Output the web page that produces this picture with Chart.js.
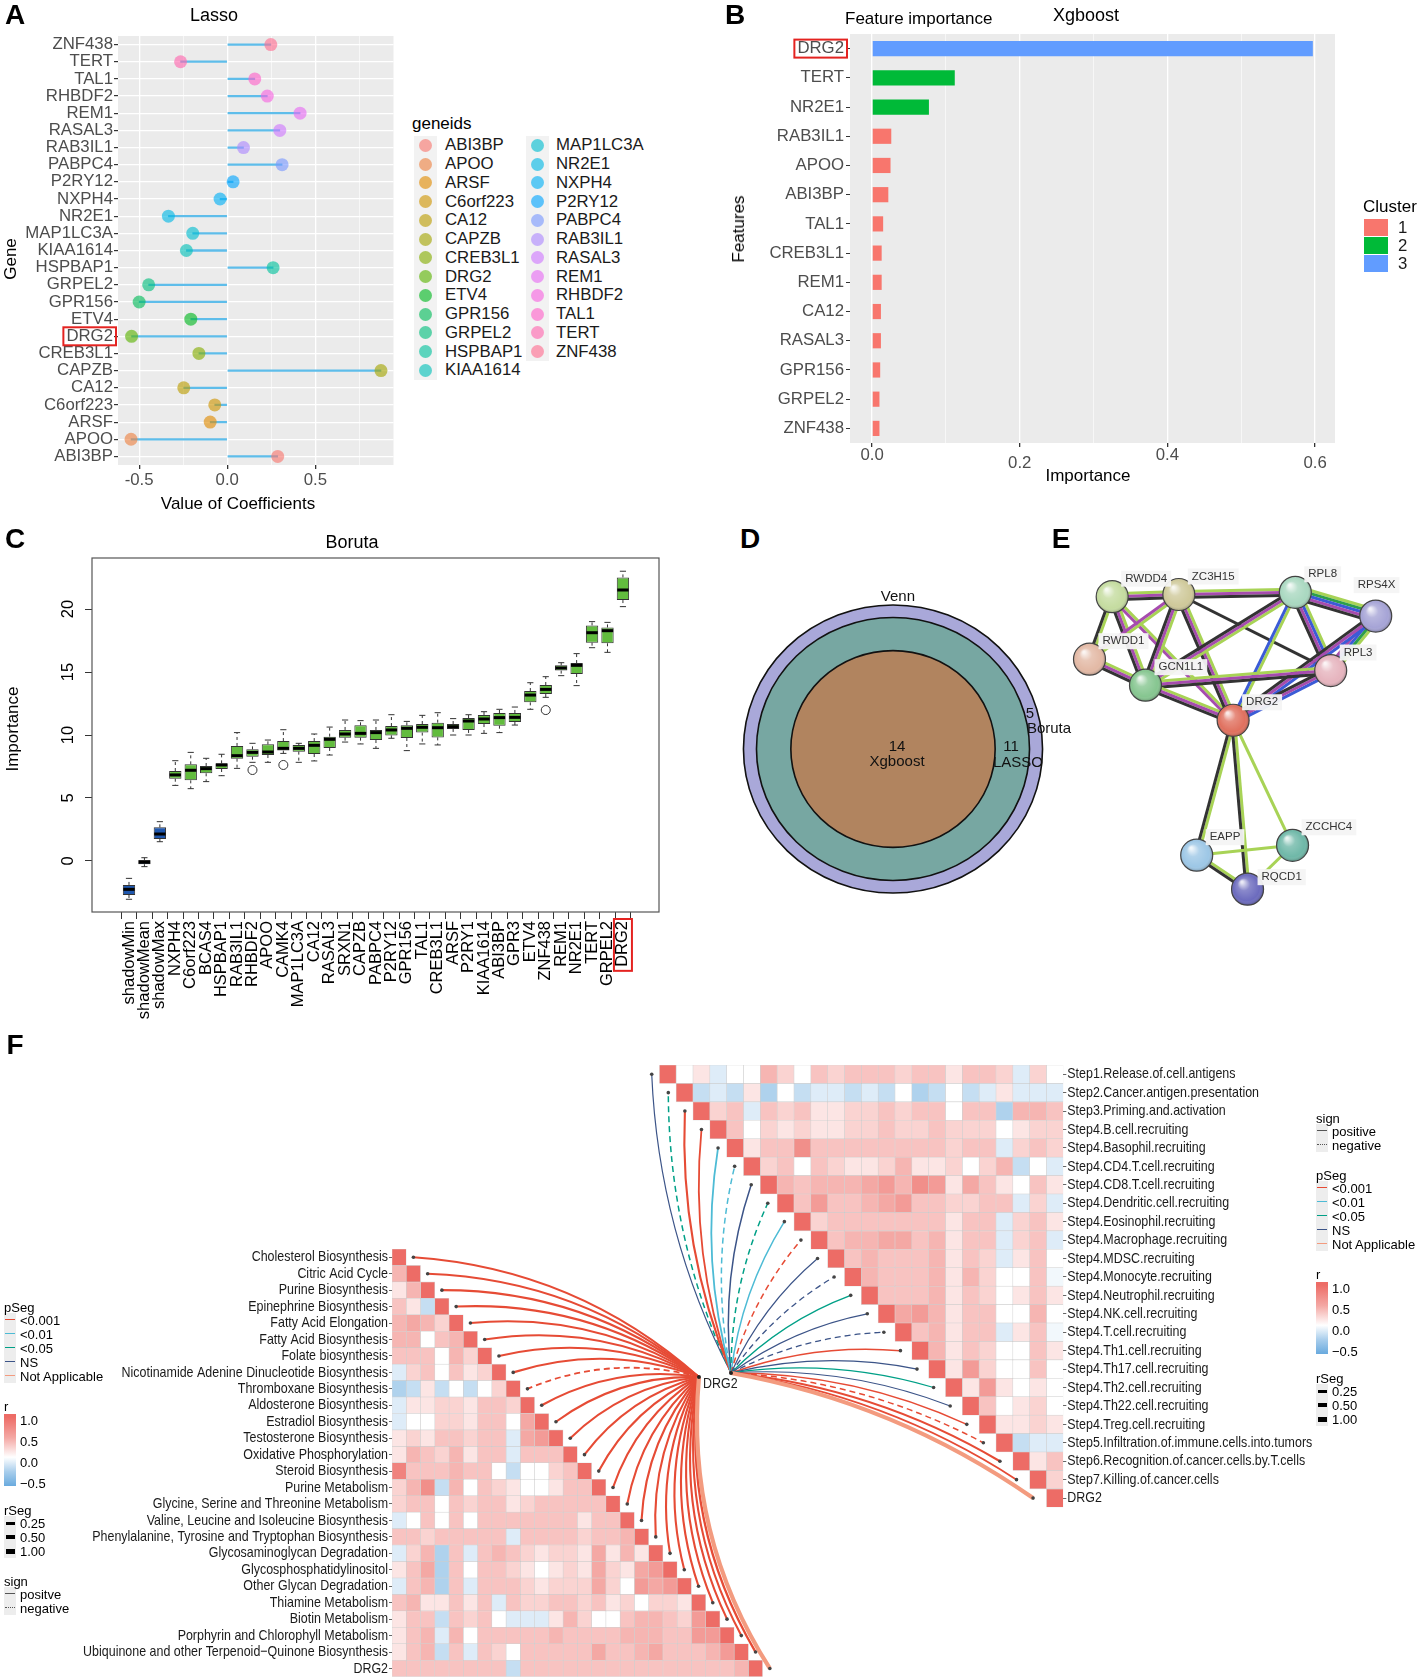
<!DOCTYPE html>
<html>
<head>
<meta charset="utf-8">
<script src="https://cdn.jsdelivr.net/npm/chart.js@4.4.1/dist/chart.umd.min.js"></script>
<style>
  html, body { margin: 0; padding: 0; background: #fff; }
  #page { position: relative; width: 1418px; height: 1679px; overflow: hidden; background: #fff; }
  #page canvas { position: absolute; }
</style>
</head>
<body>
<div id="page">
  <canvas id="cA" width="400" height="520" style="left:0px;top:0px"></canvas>
  <canvas id="cB" width="718" height="520" style="left:700px;top:0px"></canvas>
  <canvas id="cC" width="680" height="500" style="left:0px;top:520px"></canvas>
  <canvas id="cD" width="390" height="370" style="left:700px;top:560px"></canvas>
  <canvas id="cE" width="378" height="400" style="left:1040px;top:540px"></canvas>
  <canvas id="cF1" width="800" height="439" style="left:0px;top:1240px"></canvas>
  <canvas id="cF2" width="818" height="460" style="left:600px;top:1055px"></canvas>
</div>
<script>
// ---- data ----
// A: lasso coefficients (alphabetical, as in the legend)
var lassoGenes = ['ABI3BP','APOO','ARSF','C6orf223','CA12','CAPZB','CREB3L1','DRG2','ETV4','GPR156','GRPEL2','HSPBAP1','KIAA1614',
                  'MAP1LC3A','NR2E1','NXPH4','P2RY12','PABPC4','RAB3IL1','RASAL3','REM1','RHBDF2','TAL1','TERT','ZNF438'];
var lassoCoef = [0.286,-0.546,-0.097,-0.071,-0.247,0.872,-0.161,-0.543,-0.207,-0.500,-0.446,0.260,-0.232,
                 -0.196,-0.334,-0.041,0.033,0.311,0.092,0.298,0.413,0.227,0.156,-0.265,0.247];

// B: xgboost importance
var xgbFeatures = ['DRG2','TERT','NR2E1','RAB3IL1','APOO','ABI3BP','TAL1','CREB3L1','REM1','CA12','RASAL3','GPR156','GRPEL2','ZNF438'];
var xgbImp = [0.597,0.112,0.077,0.026,0.025,0.022,0.015,0.013,0.013,0.012,0.012,0.011,0.010,0.010];
var xgbCluster = [3,2,2,1,1,1,1,1,1,1,1,1,1,1];

// C: boruta importance boxes
var borutaNames = ['shadowMin','shadowMean','shadowMax','NXPH4','C6orf223','BCAS4','HSPBAP1','RAB3IL1','RHBDF2','APOO','CAMK4',
                   'MAP1LC3A','CA12','RASAL3','SRXN1','CAPZB','PABPC4','P2RY12','GPR156','TAL1','CREB3L1','ARSF','P2RY1',
                   'KIAA1614','ABI3BP','GPR3','ETV4','ZNF438','REM1','NR2E1','TERT','GRPEL2','DRG2'];
var borutaMin = [-3.04,-0.45,1.53,6.00,5.74,6.30,6.77,7.35,7.83,7.83,8.54,7.83,7.94,8.41,9.44,9.29,8.94,9.74,8.76,9.29,9.21,
                 10.00,10.00,10.13,10.19,10.79,12.04,12.99,14.71,13.92,16.93,16.56,20.19];
var borutaQ1  = [-2.70,-0.26,1.75,6.53,6.40,6.96,7.30,8.12,8.28,8.41,8.76,8.68,8.49,8.97,9.79,9.79,9.60,9.97,9.76,10.19,9.81,
                 10.48,10.40,10.87,10.74,11.03,12.59,13.25,15.11,14.84,17.33,17.28,20.71];
var borutaMed = [-2.25,-0.10,2.14,6.83,7.20,7.33,7.62,8.36,8.62,8.65,8.94,8.94,9.18,9.66,10.08,10.13,10.19,10.40,10.53,10.61,10.58,
                 10.66,11.11,11.27,11.38,11.40,13.17,13.62,15.32,15.53,18.12,18.28,21.51];
var borutaQ3  = [-1.90,0.08,2.67,7.14,7.67,7.54,7.75,9.13,8.86,9.26,9.52,9.20,9.52,9.87,10.40,10.77,10.40,10.71,10.77,10.87,10.98,
                 10.87,11.35,11.59,11.75,11.75,13.49,13.97,15.53,15.71,18.70,18.54,22.51];
var borutaMax = [-1.38,0.26,3.12,7.96,8.62,8.15,8.47,10.19,9.34,9.60,10.42,9.34,10.08,10.63,11.19,11.14,11.19,11.61,11.08,11.56,11.77,
                 11.30,11.61,11.85,12.04,12.22,14.15,14.63,15.74,16.46,19.00,18.94,23.00];
var borutaOutGene = ['RHBDF2','CAMK4','ZNF438'];
var borutaOutVal = [7.22,7.62,11.98];

// D: venn region counts
var vennNames = ['Xgboost','LASSO','Boruta'];
var vennCounts = [14,11,5];

// E: STRING network
var netNodes = ['RWDD4','ZC3H15','RPL8','RPS4X','RWDD1','GCN1L1','RPL3','DRG2','EAPP','ZCCHC4','RQCD1'];
var netX = [16.0,35.4,69.3,92.7,9.4,25.7,79.6,51.2,40.6,68.5,55.4];
var netY = [10.8,10.2,9.6,16.1,27.9,35.0,31.0,44.6,81.5,78.8,90.8];
var netEdges = [
  ['RWDD4','ZC3H15','tm ex co'], ['RWDD4','RWDD1','tm co'], ['RWDD4','GCN1L1','tm ex co'], ['RWDD4','DRG2','tm ex'],
  ['ZC3H15','RPL8','tm ex co'], ['ZC3H15','RWDD1','tm ex'], ['ZC3H15','GCN1L1','tm ex co'], ['ZC3H15','DRG2','tm ex co'],
  ['ZC3H15','RPL3','co'], ['RPL8','RPS4X','tm nb db ex co'], ['RPL8','RPL3','tm db ex co'], ['RPL8','GCN1L1','tm ex co'],
  ['RPL8','DRG2','tm db'], ['RPS4X','RPL3','tm nb db ex'], ['RPS4X','DRG2','db ex co'], ['RWDD1','GCN1L1','tm ex co'],
  ['GCN1L1','RPL3','tm ex co'], ['GCN1L1','DRG2','tm ex co'], ['RPL3','DRG2','db ex co'], ['DRG2','EAPP','tm co'],
  ['DRG2','ZCCHC4','tm'], ['DRG2','RQCD1','tm co'], ['EAPP','ZCCHC4','tm'], ['EAPP','RQCD1','tm co'], ['ZCCHC4','RQCD1','tm']
];

// F: correlation heatmaps (one character per cell: 0-9 = 0.0-0.9, a-e = -0.1..-0.5, '-' = ~0 negative, X = 1)
var metabRows = ['Cholesterol Biosynthesis','Citric Acid Cycle','Purine Biosynthesis','Epinephrine Biosynthesis','Fatty Acid Elongation',
  'Fatty Acid Biosynthesis','Folate biosynthesis','Nicotinamide Adenine Dinucleotide Biosynthesis','Thromboxane Biosynthesis',
  'Aldosterone Biosynthesis','Estradiol Biosynthesis','Testosterone Biosynthesis','Oxidative Phosphorylation','Steroid Biosynthesis',
  'Purine Metabolism','Glycine, Serine and Threonine Metabolism','Valine, Leucine and Isoleucine Biosynthesis',
  'Phenylalanine, Tyrosine and Tryptophan Biosynthesis','Glycosaminoglycan Degradation','Glycosphosphatidylinositol',
  'Other Glycan Degradation','Thiamine Metabolism','Biotin Metabolism','Porphyrin and Chlorophyll Metabolism',
  'Ubiquinone and other Terpenoid\u2212Quinone Biosynthesis','DRG2'];
var metabR = ['X','4X','14X','31bX','4542X','44034X','333042X','a230312X','cb1b0b02X','a11221332X','a002213305X',
  '12133233a56X','14324133a333X','83334330b0023X','247b4032100133X','233032331233333X','a030303333333133X',
  '33233333a33332334X','a24c3a343212215141X','135c303321012152156X','a34c3a33321222520656X','3411313a3223323120221X',
  '133b3230aaa14200344326X','134a4033333433334443366X','134b3a320333335334533346X','33333333b3333333333333334X'];
var metabP = ['<0.001','<0.001','<0.001','<0.001','<0.001','<0.001','<0.001','<0.001','<0.001','<0.001','<0.001','<0.001','<0.001',
  '<0.001','<0.001','<0.001','<0.001','<0.001','<0.001','<0.001','<0.001','<0.001','<0.001','<0.001','<0.001','NA'];

var immuneRows = ['Step1.Release.of.cell.antigens','Step2.Cancer.antigen.presentation','Step3.Priming.and.activation',
  'Step4.B.cell.recruiting','Step4.Basophil.recruiting','Step4.CD4.T.cell.recruiting','Step4.CD8.T.cell.recruiting',
  'Step4.Dendritic.cell.recruiting','Step4.Eosinophil.recruiting','Step4.Macrophage.recruiting','Step4.MDSC.recruiting',
  'Step4.Monocyte.recruiting','Step4.Neutrophil.recruiting','Step4.NK.cell.recruiting','Step4.T.cell.recruiting',
  'Step4.Th1.cell.recruiting','Step4.Th17.cell.recruiting','Step4.Th2.cell.recruiting','Step4.Th22.cell.recruiting',
  'Step4.Treg.cell.recruiting','Step5.Infiltration.of.immune.cells.into.tumors','Step6.Recognition.of.cancer.cells.by.T.cells',
  'Step7.Killing.of.cancer.cells','DRG2'];
var immuneR = ['X01a00420323332331332a20','Xbab1c0baabab0cb0ba1aaa','X23a32311223233033c443','X30212112232232220122',
  'X133733333333233a232','X230321124112024b0a','X43444564761531031','X3633456332233a2a','X23333333133a231',
  'X3445534133a23a','X343334132a130','X43334142003-','X33341320131','X5641330040','X34133a13-','X41320031',
  'X1620030','X161010','X30120','X1121','Xbaa','X13','X2','X'];
var immuneP = ['NS','<0.05','<0.001','<0.001','<0.01','<0.01','NS','<0.05','<0.01','<0.001','NS','NS','<0.05','NS','NS',
  '<0.001','NS','<0.05','NS','<0.001','<0.001','<0.001','<0.001','NA'];

// ---- style ----
var FONT = '"Liberation Sans", Arial, Helvetica, sans-serif';
Chart.defaults.font.family = FONT;
Chart.defaults.animation = false;
Chart.defaults.events = [];
Chart.defaults.plugins.legend.display = false;
Chart.defaults.plugins.tooltip.enabled = false;

var page = document.getElementById('page');
var TICK_GREY = '#4d4d4d';
var clusterColors = ['#F8766D', '#00BA38', '#619CFF'];
var pColors = { '<0.001': '#E64B35', '<0.01': '#4DBBD5', '<0.05': '#00A087', 'NS': '#3C5488', 'NA': '#F39B7F' };
var netLineColors = { tm: '#A8D356', co: '#333333', ex: '#A64CAE', db: '#3B5BD6', nb: '#2E9E4B' };
var nodeColors = ['#C5DCA0','#CFC99A','#A9D8C0','#A6A4D6','#E3B9A5','#86C690','#E6B4BE','#E0705E','#9DC7E6','#6FB8A8','#6C6BBE'];
var vennFill = ['#B1845F', '#77A7A2', '#A9A8D9'];

// ggplot default hue palette
function hcl(h, c, l) {
  var hr = h * Math.PI / 180, U = c * Math.cos(hr), V = c * Math.sin(hr);
  var Y = l > 8 ? Math.pow((l + 16) / 116, 3) : l / 903.3;
  var Xn = 0.95047, Yn = 1, Zn = 1.08883;
  var un = 4 * Xn / (Xn + 15 * Yn + 3 * Zn), vn = 9 * Yn / (Xn + 15 * Yn + 3 * Zn);
  var up = U / (13 * l) + un, vp = V / (13 * l) + vn;
  var X = Y * 9 * up / (4 * vp), Z = Y * (12 - 3 * up - 20 * vp) / (4 * vp);
  var r = 3.2406 * X - 1.5372 * Y - 0.4986 * Z, g = -0.9689 * X + 1.8758 * Y + 0.0415 * Z, b = 0.0557 * X - 0.2040 * Y + 1.0570 * Z;
  function gam(v) { v = Math.max(0, Math.min(1, v)); return Math.round(255 * (v <= 0.0031308 ? 12.92 * v : 1.055 * Math.pow(v, 1 / 2.4) - 0.055)); }
  return [gam(r), gam(g), gam(b)];
}
var geneFill = lassoGenes.map(function(g, i) {
  var c = hcl(15 + 360 * i / lassoGenes.length, 100, 65);
  return 'rgba(' + c[0] + ',' + c[1] + ',' + c[2] + ',0.62)';
});

function decodeR(ch) {
  if (ch === 'X') return 1;
  if (ch === '-') return -0.03;
  var k = 'abcde'.indexOf(ch);
  if (k >= 0) return -(k + 1) / 10;
  return +ch / 10;
}
function heatColor(v) {
  if (v >= 0) {
    var t = Math.pow(Math.min(v, 1), 0.75);
    return 'rgb(' + Math.round(255 - 18 * t) + ',' + Math.round(255 - 147 * t) + ',' + Math.round(255 - 153 * t) + ')';
  }
  var s = Math.pow(Math.min(-v / 0.66, 1), 0.8);
  return 'rgb(' + Math.round(255 - 150 * s) + ',' + Math.round(255 - 85 * s) + ',' + Math.round(255 - 33 * s) + ')';
}

// ---- html text helpers ----
function txt(s, x, y, o) {
  o = o || {};
  var d = document.createElement('div');
  d.textContent = s;
  d.style.cssText = 'position:absolute;left:' + x + 'px;top:' + y + 'px;white-space:nowrap;line-height:1;z-index:5;' +
    'font:' + (o.weight || 'normal') + ' ' + (o.size || 17) + 'px ' + FONT + ';color:' + (o.color || '#000') + ';';
  var ax = o.align === 'left' ? '0' : (o.align === 'right' ? '-100%' : '-50%');
  d.style.transform = 'translate(' + ax + ',-50%)' + (o.rot ? ' rotate(' + o.rot + 'deg)' : '');
  page.appendChild(d);
  return d;
}
function box(x, y, w, h, css) {
  var d = document.createElement('div');
  d.style.cssText = 'position:absolute;left:' + x + 'px;top:' + y + 'px;width:' + w + 'px;height:' + h + 'px;z-index:4;' + (css || '');
  page.appendChild(d);
  return d;
}

// ---- shared plugins ----
function panelBg(color) {
  return { id: 'panelBg', beforeDraw: function(chart) {
    var a = chart.chartArea, c = chart.ctx;
    c.save(); c.fillStyle = color; c.fillRect(a.left, a.top, a.right - a.left, a.bottom - a.top); c.restore();
  } };
}
function labelBox(axisId, value, text, size, rotated) {
  return { id: 'labelBox', afterDraw: function(chart) {
    var s = chart.scales[axisId], c = chart.ctx;
    var tl = s.options.grid.tickLength, pad = s.options.ticks.padding;
    c.save();
    c.font = size + 'px ' + FONT;
    var w = c.measureText(text).width;
    c.strokeStyle = '#E42320'; c.lineWidth = 2;
    if (!rotated) {
      var y = s.getPixelForValue(value), right = s.right - tl - pad;
      c.strokeRect(right - w - 3, y - 9, w + 6, 18);
    } else {
      var x = s.getPixelForValue(value), top = s.top + tl + pad;
      c.strokeRect(x - 9, top - 2, 18, w + 6);
    }
    c.restore();
  } };
}
function isMajor(v, step) { return Math.abs(v / step - Math.round(v / step)) < 1e-6; }

// ---- panel letters and titles ----
txt('A', 15, 15, { size: 28, weight: 'bold' });
txt('B', 735, 15, { size: 28, weight: 'bold' });
txt('C', 15, 539, { size: 28, weight: 'bold' });
txt('D', 750, 539, { size: 28, weight: 'bold' });
txt('E', 1061, 539, { size: 28, weight: 'bold' });
txt('F', 15, 1045, { size: 28, weight: 'bold' });

txt('Lasso', 214, 15, { size: 18 });
txt('Gene', 11, 259, { rot: -90 });
txt('Value of Coefficients', 238, 504);
txt('Feature importance', 845, 19, { align: 'left' });
txt('Xgboost', 1086, 15, { size: 18 });
txt('Features', 739, 229, { rot: -90 });
txt('Importance', 1088, 476);
txt('Boruta', 352, 542, { size: 18 });
txt('Importance', 13, 729, { rot: -90 });

// ---- A: Lasso lollipop ----
new Chart(document.getElementById('cA'), {
  type: 'bar',
  data: {
    labels: lassoGenes,
    datasets: [
      { type: 'line', indexAxis: 'y', data: lassoCoef, showLine: false, pointRadius: 6.5, pointHoverRadius: 6.5,
        pointBackgroundColor: geneFill, pointBorderWidth: 0, order: 0, clip: false },
      { type: 'bar', data: lassoCoef, backgroundColor: '#5EBDEA', barThickness: 1.6, order: 1 }
    ]
  },
  options: {
    indexAxis: 'y', responsive: false,
    layout: { padding: { top: 36, right: 3, left: 0, bottom: 0 } },
    scales: {
      y: {
        reverse: true, offset: true,
        grid: { color: '#ffffff', lineWidth: 1.2, offset: false, tickColor: '#333', tickLength: 4 },
        border: { display: false },
        ticks: { color: TICK_GREY, font: { size: 16.8 }, padding: 1, autoSkip: false },
        afterFit: function(s) { s.width = 118; }
      },
      x: {
        min: -0.62, max: 0.943,
        afterBuildTicks: function(s) { s.ticks = [-0.5, -0.25, 0, 0.25, 0.5, 0.75].map(function(v) { return { value: v }; }); },
        grid: {
          color: '#ffffff',
          lineWidth: function(c) { return isMajor(c.tick.value, 0.5) ? 1.3 : 0.6; },
          tickColor: function(c) { return isMajor(c.tick.value, 0.5) ? '#333' : 'rgba(0,0,0,0)'; },
          tickLength: 4
        },
        border: { display: false },
        ticks: { color: TICK_GREY, font: { size: 16.8 }, padding: 1, maxRotation: 0, autoSkip: false,
          callback: function(v) { return isMajor(v, 0.5) ? v.toFixed(1) : ''; } },
        afterFit: function(s) { s.height = 55; }
      }
    }
  },
  plugins: [panelBg('#EBEBEB'), labelBox('y', lassoGenes.indexOf('DRG2'), 'DRG2', 16.8, false)]
});

// A legend
txt('geneids', 412, 124, { align: 'left' });
(function() {
  var perCol = 13, rowH = 18.75, top = 136;
  box(414, top, 23, perCol * rowH, 'background:#F2F2F2');
  box(526, top, 23, (lassoGenes.length - perCol) * rowH, 'background:#F2F2F2');
  lassoGenes.forEach(function(g, i) {
    var col = i < perCol ? 0 : 1, row = i % perCol;
    var cx = col === 0 ? 425.5 : 537.5, cy = top + rowH * (row + 0.5);
    box(cx - 6.5, cy - 6.5, 13, 13, 'border-radius:50%;background:' + geneFill[i] + ';z-index:6');
    txt(g, col === 0 ? 445 : 556, cy, { align: 'left', size: 16.8, color: '#1a1a1a' });
  });
})();

// ---- B: Xgboost bars ----
new Chart(document.getElementById('cB'), {
  type: 'bar',
  data: {
    labels: xgbFeatures,
    datasets: [{ data: xgbImp, backgroundColor: xgbCluster.map(function(k) { return clusterColors[k - 1]; }),
      barPercentage: 0.52, categoryPercentage: 1 }]
  },
  options: {
    indexAxis: 'y', responsive: false,
    layout: { padding: { top: 34, right: 83, left: 0, bottom: 0 } },
    scales: {
      y: {
        grid: { drawOnChartArea: false, offset: false, tickColor: '#333', tickLength: 4 },
        border: { display: false },
        ticks: { color: TICK_GREY, font: { size: 16.8 }, padding: 2, autoSkip: false },
        afterFit: function(s) { s.width = 150; }
      },
      x: {
        min: -0.0299, max: 0.627,
        afterBuildTicks: function(s) { s.ticks = [0, 0.1, 0.2, 0.3, 0.4, 0.5, 0.6].map(function(v) { return { value: v }; }); },
        grid: {
          color: '#ffffff',
          lineWidth: function(c) { return isMajor(c.tick.value, 0.2) ? 1.3 : 0.6; },
          tickColor: function(c) { return isMajor(c.tick.value, 0.2) ? '#333' : 'rgba(0,0,0,0)'; },
          tickLength: 4
        },
        border: { display: false },
        ticks: {
          color: TICK_GREY, font: { size: 16.8, lineHeight: 0.5 }, padding: 4, maxRotation: 0, autoSkip: false,
          callback: function(v) {
            if (!isMajor(v, 0.2)) return '';
            var lab = v.toFixed(1);
            return isMajor(v, 0.4) ? lab : ['', lab];
          }
        },
        afterFit: function(s) { s.height = 77; }
      }
    }
  },
  plugins: [panelBg('#EBEBEB'), labelBox('y', 0, 'DRG2', 16.8, false)]
});

// B legend
txt('Cluster', 1363, 207, { align: 'left' });
[1, 2, 3].forEach(function(k, i) {
  box(1364, 219 + 18 * i, 24, 17, 'background:' + clusterColors[i]);
  txt(String(k), 1398, 228 + 18 * i, { align: 'left', size: 16.8, color: '#1a1a1a' });
});

// ---- C: Boruta boxplot ----
new Chart(document.getElementById('cC'), {
  type: 'bar',
  data: {
    datasets: [{
      data: borutaNames.map(function(n, i) { return { x: i + 1, y: [borutaQ1[i], borutaQ3[i]] }; }),
      backgroundColor: borutaNames.map(function(n) { return n.indexOf('shadow') === 0 ? '#1F57AE' : '#62BC3E'; }),
      borderColor: '#333', borderWidth: 1, borderSkipped: false, barPercentage: 0.8, categoryPercentage: 1
    }]
  },
  options: {
    responsive: false,
    layout: { padding: { top: 38, right: 21, left: 0, bottom: 0 } },
    scales: {
      x: {
        type: 'linear', min: -0.84, max: 34.78,
        afterBuildTicks: function(s) { s.ticks = borutaNames.map(function(n, i) { return { value: i + 1 }; }); },
        grid: { drawOnChartArea: false, tickColor: '#333', tickLength: 7 },
        border: { display: false },
        ticks: { autoSkip: false, minRotation: 90, maxRotation: 90, color: '#000', font: { size: 16.5 }, padding: 2,
          callback: function(v) { return borutaNames[v - 1]; } },
        afterFit: function(s) { s.height = 108; }
      },
      y: {
        min: -4.05, max: 24.05,
        afterBuildTicks: function(s) { s.ticks = [0, 5, 10, 15, 20].map(function(v) { return { value: v }; }); },
        grid: { drawOnChartArea: false, tickColor: '#333', tickLength: 7 },
        border: { display: false },
        ticks: { display: false },
        afterFit: function(s) { s.width = 92; }
      }
    }
  },
  plugins: [
    { id: 'boxWhisker', afterDatasetsDraw: function(chart) {
      var c = chart.ctx, sy = chart.scales.y, sx = chart.scales.x;
      var meta = chart.getDatasetMeta(0);
      c.save();
      meta.data.forEach(function(bar, i) {
        var p = bar.getProps(['x', 'width'], true), x = p.x, hw = p.width / 2;
        c.strokeStyle = '#333'; c.lineWidth = 1;
        c.setLineDash([3, 3]);
        c.beginPath();
        c.moveTo(x, sy.getPixelForValue(borutaQ3[i])); c.lineTo(x, sy.getPixelForValue(borutaMax[i]));
        c.moveTo(x, sy.getPixelForValue(borutaQ1[i])); c.lineTo(x, sy.getPixelForValue(borutaMin[i]));
        c.stroke();
        c.setLineDash([]);
        c.beginPath();
        c.moveTo(x - hw / 2, sy.getPixelForValue(borutaMax[i])); c.lineTo(x + hw / 2, sy.getPixelForValue(borutaMax[i]));
        c.moveTo(x - hw / 2, sy.getPixelForValue(borutaMin[i])); c.lineTo(x + hw / 2, sy.getPixelForValue(borutaMin[i]));
        c.stroke();
        c.strokeStyle = '#000'; c.lineWidth = 3;
        c.beginPath();
        c.moveTo(x - hw + 0.5, sy.getPixelForValue(borutaMed[i])); c.lineTo(x + hw - 0.5, sy.getPixelForValue(borutaMed[i]));
        c.stroke();
      });
      c.strokeStyle = '#333'; c.lineWidth = 1;
      borutaOutGene.forEach(function(g, k) {
        var x = sx.getPixelForValue(borutaNames.indexOf(g) + 1), y = sy.getPixelForValue(borutaOutVal[k]);
        c.beginPath(); c.arc(x, y, 4.5, 0, Math.PI * 2); c.stroke();
      });
      c.restore();
    } },
    { id: 'frameAndY', afterDraw: function(chart) {
      var c = chart.ctx, a = chart.chartArea, sy = chart.scales.y;
      c.save();
      c.strokeStyle = '#555'; c.lineWidth = 1.2;
      c.strokeRect(a.left, a.top, a.right - a.left, a.bottom - a.top);
      c.fillStyle = '#000'; c.font = '16.5px ' + FONT; c.textAlign = 'center'; c.textBaseline = 'middle';
      sy.ticks.forEach(function(t) {
        c.save(); c.translate(68, sy.getPixelForValue(t.value)); c.rotate(-Math.PI / 2);
        c.fillText(String(t.value), 0, 0); c.restore();
      });
      c.restore();
    } },
    labelBox('x', borutaNames.indexOf('DRG2') + 1, 'DRG2', 16.5, true)
  ]
});

// ---- D: Venn ----
var vennLabels = [
  { t: 'Venn', x: 0.033, y: 1.06 },
  { t: String(vennCounts[0]), x: 0.027, y: 0.014 }, { t: vennNames[0], x: 0.027, y: -0.09 },
  { t: String(vennCounts[1]), x: 0.79, y: 0.014 }, { t: vennNames[1], x: 0.836, y: -0.097 },
  { t: String(vennCounts[2]), x: 0.916, y: 0.243 }, { t: vennNames[2], x: 1.043, y: 0.139 }
];
new Chart(document.getElementById('cD'), {
  type: 'scatter',
  data: { datasets: [{ data: [] }] },
  options: {
    responsive: false,
    layout: { padding: { left: 28.5, right: 32.5, top: 30.6, bottom: 22.6 } },
    scales: { x: { min: -1.1, max: 1.1, display: false }, y: { min: -1.1, max: 1.1, display: false } }
  },
  plugins: [{ id: 'venn', afterDraw: function(chart) {
    var c = chart.ctx, sx = chart.scales.x, sy = chart.scales.y;
    var cx = sx.getPixelForValue(0), cy = sy.getPixelForValue(0);
    var ux = sx.getPixelForValue(1) - cx, uy = cy - sy.getPixelForValue(1);
    var total = vennCounts.reduce(function(a, b) { return a + b; }, 0);
    var cum = [], run = 0;
    vennCounts.forEach(function(n) { run += n; cum.push(run); });
    c.save();
    for (var k = vennCounts.length - 1; k >= 0; k--) {
      var r = Math.sqrt(cum[k] / total);
      c.beginPath(); c.ellipse(cx, cy, r * ux, r * uy, 0, 0, Math.PI * 2);
      c.fillStyle = vennFill[k]; c.fill();
      c.strokeStyle = '#111'; c.lineWidth = 1.6; c.stroke();
    }
    c.fillStyle = '#111'; c.font = '15px ' + FONT; c.textAlign = 'center'; c.textBaseline = 'middle';
    vennLabels.forEach(function(l) { c.fillText(l.t, sx.getPixelForValue(l.x), sy.getPixelForValue(l.y)); });
    c.restore();
  } }]
});

// ---- E: network ----
var netLabelOffset = { RPS4X: [-18, -31], RQCD1: [14, -12] };
new Chart(document.getElementById('cE'), {
  type: 'scatter',
  data: { datasets: [{
    data: netNodes.map(function(n, i) { return { x: netX[i], y: netY[i] }; }),
    pointRadius: 16, pointHoverRadius: 16, pointBackgroundColor: nodeColors, pointBorderColor: '#444', pointBorderWidth: 1.2, clip: false
  }] },
  options: {
    responsive: false,
    layout: { padding: 0 },
    scales: { x: { min: 0, max: 100, display: false }, y: { min: 0, max: 100, reverse: true, display: false } }
  },
  plugins: [{
    id: 'network',
    beforeDatasetsDraw: function(chart) {
      var c = chart.ctx, sx = chart.scales.x, sy = chart.scales.y;
      c.save(); c.lineCap = 'butt';
      netEdges.forEach(function(e) {
        var a = netNodes.indexOf(e[0]), b = netNodes.indexOf(e[1]);
        var x0 = sx.getPixelForValue(netX[a]), y0 = sy.getPixelForValue(netY[a]);
        var x1 = sx.getPixelForValue(netX[b]), y1 = sy.getPixelForValue(netY[b]);
        var len = Math.hypot(x1 - x0, y1 - y0), nx = -(y1 - y0) / len, ny = (x1 - x0) / len;
        var kinds = e[2].split(' ');
        kinds.forEach(function(k, j) {
          var off = (j - (kinds.length - 1) / 2) * 3;
          c.strokeStyle = netLineColors[k]; c.lineWidth = 3;
          c.beginPath(); c.moveTo(x0 + nx * off, y0 + ny * off); c.lineTo(x1 + nx * off, y1 + ny * off); c.stroke();
        });
      });
      c.restore();
    },
    afterDatasetsDraw: function(chart) {
      var c = chart.ctx, sx = chart.scales.x, sy = chart.scales.y;
      c.save();
      netNodes.forEach(function(n, i) {
        var x = sx.getPixelForValue(netX[i]), y = sy.getPixelForValue(netY[i]), r = 16;
        var g = c.createRadialGradient(x - r * 0.35, y - r * 0.45, 1, x, y, r);
        g.addColorStop(0, 'rgba(255,255,255,0.85)');
        g.addColorStop(0.35, 'rgba(255,255,255,0.2)');
        g.addColorStop(0.8, 'rgba(255,255,255,0)');
        g.addColorStop(1, 'rgba(0,0,0,0.25)');
        c.fillStyle = g; c.beginPath(); c.arc(x, y, r - 0.5, 0, Math.PI * 2); c.fill();
      });
      c.font = '11.5px ' + FONT; c.textBaseline = 'middle'; c.textAlign = 'left';
      netNodes.forEach(function(n, i) {
        var x = sx.getPixelForValue(netX[i]), y = sy.getPixelForValue(netY[i]);
        var off = netLabelOffset[n] || [13, -18];
        var w = c.measureText(n).width;
        c.fillStyle = 'rgba(244,244,244,0.95)';
        c.fillRect(x + off[0] - 4, y + off[1] - 8, w + 8, 16);
        c.fillStyle = '#333';
        c.fillText(n, x + off[0], y + off[1]);
      });
      c.restore();
    }
  }]
});

// ---- F: correlation heatmaps with couple curves ----
function heatDatasets(rows, codes, lower) {
  var n = rows.length, sets = [];
  for (var col = 0; col < n; col++) {
    var data = [], colors = [];
    for (var r = 0; r < n; r++) {
      var has = lower ? r >= col : col >= r;
      if (has) {
        var ch = lower ? codes[r][col] : codes[r][col - r];
        data.push([col, col + 1]); colors.push(heatColor(decodeR(ch)));
      } else { data.push(null); colors.push('rgba(0,0,0,0)'); }
    }
    sets.push({ data: data, backgroundColor: colors, borderColor: 'rgba(185,185,185,0.55)', borderWidth: 0.6,
      grouped: false, barPercentage: 1, categoryPercentage: 1, borderSkipped: false });
  }
  return sets;
}
function narrowLabels(side) {
  return { id: 'narrowLabels', afterDraw: function(chart) {
    var s = chart.scales.y, c = chart.ctx;
    c.save();
    c.font = '15px ' + FONT; c.fillStyle = '#1a1a1a'; c.textBaseline = 'middle';
    s.getLabels().forEach(function(lab, i) {
      var y = s.getPixelForValue(i);
      c.save();
      if (side === 'left') { c.translate(s.right - 4, y); c.textAlign = 'right'; }
      else { c.translate(s.left + 4, y); c.textAlign = 'left'; }
      c.scale(0.83, 1);
      c.fillText(lab, 0, 0);
      c.restore();
    });
    c.restore();
  } };
}
function coupleCurves(opt) {
  return { id: 'couple', afterDatasetsDraw: function(chart) {
    var c = chart.ctx, sx = chart.scales.x, sy = chart.scales.y;
    var hx = sx.getPixelForValue(opt.hub[0]), hy = sy.getPixelForValue(opt.hub[1]);
    var ends = [];
    c.save(); c.lineCap = 'butt';
    opt.codes.forEach(function(code, i) {
      var rv = decodeR(opt.pick(code));
      var e = opt.end(i), px = sx.getPixelForValue(e[0]), py = sy.getPixelForValue(e[1]);
      var dx = px - hx, dy = py - hy;
      var qx = (hx + px) / 2 - dy * opt.bend, qy = (hy + py) / 2 + dx * opt.bend;
      c.strokeStyle = pColors[opt.p[i]];
      c.lineWidth = 1.2 + 3 * Math.abs(rv);
      c.setLineDash(rv < 0 ? [6, 4] : []);
      c.beginPath(); c.moveTo(hx, hy); c.quadraticCurveTo(qx, qy, px, py); c.stroke();
      ends.push([px, py]);
    });
    c.setLineDash([]);
    c.fillStyle = '#444';
    ends.forEach(function(p) { c.beginPath(); c.arc(p[0], p[1], 1.8, 0, Math.PI * 2); c.fill(); });
    c.fillStyle = '#222';
    c.beginPath(); c.arc(hx, hy, 2, 0, Math.PI * 2); c.fill();
    if (opt.hubLabel) {
      c.font = '15px ' + FONT; c.textAlign = 'left'; c.textBaseline = 'middle';
      c.translate(hx + 4, hy + 7); c.scale(0.83, 1); c.fillText(opt.hubLabel, 0, 0);
    }
    c.restore();
  } };
}
function heatYAxis(side, width) {
  return {
    position: side, offset: true,
    grid: { drawOnChartArea: false, offset: false, tickColor: '#666', tickLength: 3 },
    border: { display: false },
    ticks: { display: false, autoSkip: false },
    afterFit: function(s) { s.width = width; }
  };
}

// left heatmap: metabolism (lower triangle)
new Chart(document.getElementById('cF1'), {
  type: 'bar',
  data: { labels: metabRows, datasets: heatDatasets(metabRows, metabR, true) },
  options: {
    indexAxis: 'y', responsive: false,
    layout: { padding: { top: 9, right: 37.3, bottom: 2.3, left: 0 } },
    scales: {
      x: { min: 0, max: metabRows.length, display: false },
      y: heatYAxis('left', 392)
    }
  },
  plugins: [narrowLabels('left'), coupleCurves({
    hub: [21.53, 7.28], codes: metabR, p: metabP, bend: 0.17, hubLabel: 'DRG2',
    pick: function(code) { return metabR[metabR.length - 1][code.length - 1]; },
    end: function(i) { return [i + 1.5, i]; }
  })]
});

// right heatmap: immune cycle steps (upper triangle)
new Chart(document.getElementById('cF2'), {
  type: 'bar',
  data: { labels: immuneRows, datasets: heatDatasets(immuneRows, immuneR, false) },
  options: {
    indexAxis: 'y', responsive: false,
    layout: { padding: { top: 10, right: 0, bottom: 7.7, left: 59.3 } },
    scales: {
      x: { min: 0, max: immuneRows.length, display: false },
      y: heatYAxis('right', 354.7)
    }
  },
  plugins: [narrowLabels('right'), coupleCurves({
    hub: [4.26, 16.21], codes: immuneR, p: immuneP, bend: -0.11,
    pick: function(code) { return code[code.length - 1]; },
    end: function(i) { return [i - 0.45 - 0.015 * i, i]; }
  })]
});

// F legends
function segKey(x, y, color, dashed) {
  box(x + 1, y - 0.6, 10, 0, 'border-top:1.2px ' + (dashed ? 'dotted' : 'solid') + ' ' + color + ';z-index:6');
}
function fLegend(x, y0, positiveLabel, order) {
  var tx = x + 16, y = y0, rowH = 14;
  var blocks = {
    pSeg: function() {
      txt('pSeg', x, y, { align: 'left', size: 13 }); y += 13;
      var labs = ['<0.001', '<0.01', '<0.05', 'NS', 'Not Applicable'], keys = ['<0.001', '<0.01', '<0.05', 'NS', 'NA'];
      box(x, y - 7, 12, rowH * labs.length, 'background:#EDEDED');
      labs.forEach(function(l, i) { segKey(x, y, pColors[keys[i]], false); txt(l, tx, y, { align: 'left', size: 13 }); y += rowH; });
      y += 16;
    },
    r: function() {
      txt('r', x, y, { align: 'left', size: 13 }); y += 8;
      box(x, y, 12, 72, 'background:linear-gradient(to bottom,' + heatColor(1) + ' 0%,' + heatColor(1) + ' 4%,' +
        heatColor(0.5) + ' 33%,#ffffff 60%,' + heatColor(-0.33) + ' 80%,' + heatColor(-0.66) + ' 100%)');
      [['1.0', 6], ['0.5', 27], ['0.0', 48], ['\u22120.5', 69]].forEach(function(t) { txt(t[0], tx, y + t[1], { align: 'left', size: 13 }); });
      y += 72 + 24;
    },
    rSeg: function() {
      txt('rSeg', x, y, { align: 'left', size: 13 }); y += 13;
      box(x, y - 7, 12, rowH * 3, 'background:#EDEDED');
      [['0.25', 3], ['0.50', 4], ['1.00', 5]].forEach(function(t) {
        box(x + 1.5, y - t[1] / 2, 9, t[1], 'background:#000;z-index:6'); txt(t[0], tx, y, { align: 'left', size: 13 }); y += rowH;
      });
      y += 16;
    },
    sign: function() {
      txt('sign', x, y, { align: 'left', size: 13 }); y += 13;
      box(x, y - 7, 12, rowH * 2, 'background:#EDEDED');
      segKey(x, y, '#555', false); txt(positiveLabel, tx, y, { align: 'left', size: 13 }); y += rowH;
      segKey(x, y, '#555', true); txt('negative', tx, y, { align: 'left', size: 13 }); y += rowH;
      y += 16;
    }
  };
  order.forEach(function(k) { blocks[k](); });
}
fLegend(4, 1307, 'positve', ['pSeg', 'r', 'rSeg', 'sign']);
fLegend(1316, 1118, 'positive', ['sign', 'pSeg', 'r', 'rSeg']);
</script>
</body>
</html>
